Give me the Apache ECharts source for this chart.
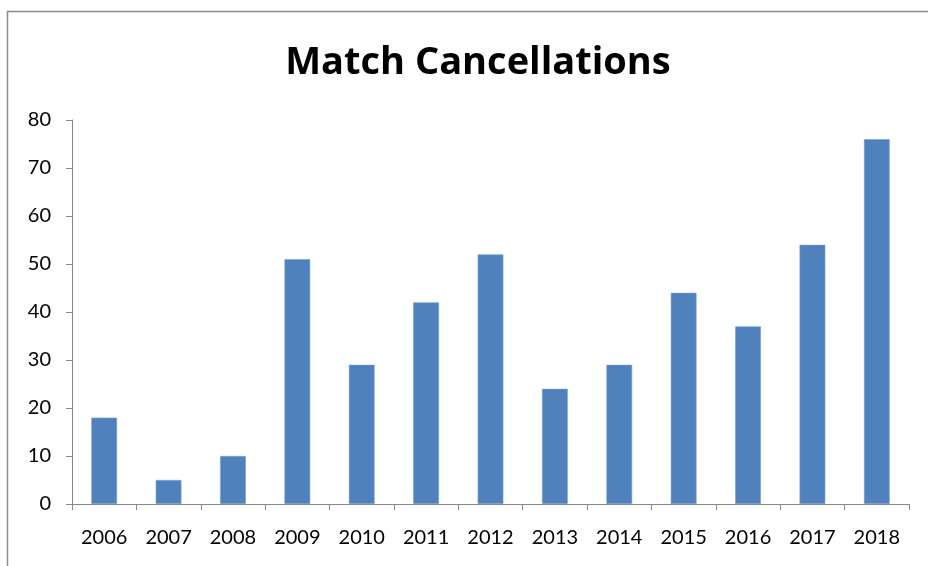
<!DOCTYPE html>
<html><head><meta charset="utf-8">
<script src="https://cdn.jsdelivr.net/npm/echarts@6/dist/echarts.min.js"></script>
<style>html,body{margin:0;padding:0;background:#fff}#c{width:928px;height:566px}</style>
</head><body><div id="c"></div>
<script>
const years = ['2006','2007','2008','2009','2010','2011','2012','2013','2014','2015','2016','2017','2018'];
const cancellations = [18, 5, 10, 51, 29, 42, 52, 24, 29, 44, 37, 54, 76];
const yTicks = {min: 0, max: 80, interval: 10};
const titleText = 'Match Cancellations';

const chart = echarts.init(document.getElementById('c'), null, {renderer: 'canvas'});
const font = 'Lato, "Open Sans", sans-serif';
chart.setOption({
  animation: false,
  backgroundColor: '#fff',
  graphic: [{
    type: 'rect', shape: {x: 7.5, y: 11.5, width: 1000, height: 700},
    style: {fill: 'none', stroke: '#8c8c8c', lineWidth: 1.5}, silent: true
  }],
  title: {
    text: titleText, left: 473, top: 39, textAlign: 'center',
    textStyle: {fontFamily: '"Open Sans", sans-serif', fontWeight: 'bold', fontSize: 38, color: '#000'}
  },
  grid: {left: 72, right: 19, top: 120, bottom: 62, containLabel: false},
  xAxis: {
    type: 'category', data: years,
    axisLine: {lineStyle: {color: '#868686', width: 1}},
    axisTick: {show: true, alignWithLabel: false, length: 6, lineStyle: {color: '#868686'}},
    axisLabel: {fontFamily: font, fontSize: 20, color: '#000', margin: 24}
  },
  yAxis: {
    type: 'value', min: yTicks.min, max: yTicks.max, interval: yTicks.interval,
    axisLine: {show: true, lineStyle: {color: '#868686', width: 1}},
    axisTick: {show: true, length: 6, lineStyle: {color: '#868686'}},
    splitLine: {show: false},
    axisLabel: {fontFamily: font, fontSize: 20, color: '#000', margin: 21}
  },
  series: [{
    type: 'bar', data: cancellations, barWidth: '40%',
    itemStyle: {color: '#4F81BD', borderColor: '#7aa3d6', borderWidth: 0.6}
  }]
});
</script></body></html>
